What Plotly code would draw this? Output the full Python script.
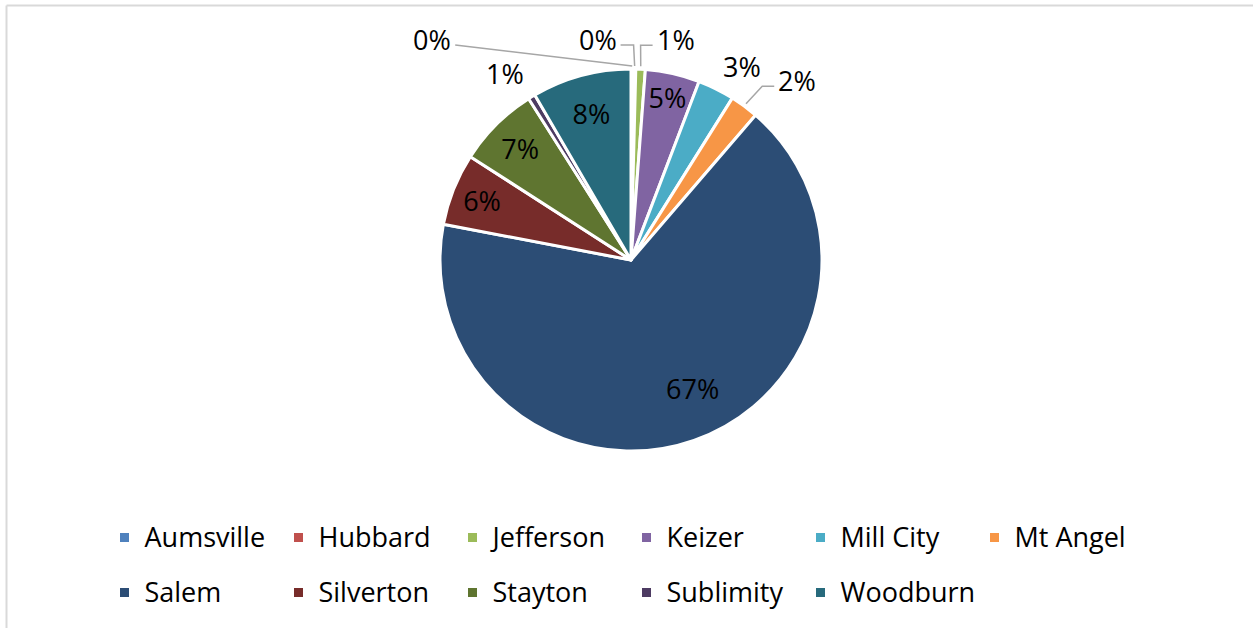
import math
import plotly.graph_objects as go

# ---------------- data ----------------
categories = ["Aumsville", "Hubbard", "Jefferson", "Keizer", "Mill City", "Mt Angel",
              "Salem", "Silverton", "Stayton", "Sublimity", "Woodburn"]
values = [0.2, 0.2, 0.8, 4.6, 3.1, 2.4, 66.7, 6.1, 6.9, 0.6, 8.4]

# ---------------- style ----------------
colors = ["#4F81BD", "#C0504D", "#9BBB59", "#8064A2", "#4BACC6", "#F79646",
          "#2C4D75", "#772C2A", "#5F7530", "#4D3B62", "#276A7C"]
# slices whose percentage is drawn by the pie itself (inside)
inside_labels = {"Keizer", "Stayton", "Silverton", "Woodburn"}
# labels placed by offsets (px) from the slice's rim point, Excel-like
# name: (dx, dy, leader) ; leader = None or (side, horizontal_len)
outside_cfg = {
    "Aumsville": (-200, -30, ("right", 0)),
    "Hubbard": (-37, -30, ("right", 13)),
    "Jefferson": (35, -30, ("left", 12)),
    "Mill City": (26, -23, None),
    "Mt Angel": (53, -26, ("left", 12)),
    "Sublimity": (-27, -23, None),
}
# big slice label position (fraction of radius, angle nudge in degrees)
center_cfg = {"Salem": (0.745, -6.5)}

FONT = "Open Sans"
FS = 27
W, H = 1253, 628
MR = 150                    # right margin (limits legend row to 6 entries)
PW = W - MR                 # plot-area width in px
cx, cy, R = 631, 260, 191   # pie centre / radius in px


def px2x(px):
    return px / PW


def px2y(py):
    return 1 - py / H


total = sum(values)
pcts = [v / total for v in values]

# slice mid angles (degrees clockwise from 12 o'clock)
mids = []
acc = 0.0
for v in values:
    a0 = acc / total * 360
    acc += v
    a1 = acc / total * 360
    mids.append((a0 + a1) / 2)


def rim(angle_deg, rad):
    t = math.radians(angle_deg)
    return cx + rad * math.sin(t), cy - rad * math.cos(t)


texttemplates = ["%{percent:.0%}" if c in inside_labels else "" for c in categories]
textpositions = ["inside" if c in inside_labels else "none" for c in categories]

fig = go.Figure(go.Pie(
    labels=[f"<span style='font-size:{FS}px;baseline-shift:6px'>{c}</span>" for c in categories],
    values=values,
    customdata=categories,
    hovertemplate="%{customdata}: %{percent}<extra></extra>",
    sort=False,
    direction="clockwise",
    rotation=0,
    automargin=False,
    marker=dict(colors=colors, line=dict(color="white", width=3)),
    texttemplate=texttemplates,
    textposition=textpositions,
    insidetextorientation="horizontal",
    textfont=dict(family=FONT, size=FS, color="black"),
    domain=dict(x=[px2x(cx - 300), px2x(cx + 300)], y=[px2y(cy + R), px2y(cy - R)]),
))

annotations = []
shapes = []
for i, c in enumerate(categories):
    label = f"{round(pcts[i] * 100):.0f}%"
    if c in outside_cfg:
        dx, dy, leader = outside_cfg[c]
        ax_, ay_ = rim(mids[i], R)
        lx, ly = ax_ + dx, ay_ + dy
        annotations.append(dict(x=px2x(lx), y=px2y(ly), xref="paper", yref="paper",
                                text=label, showarrow=False, xanchor="center", yanchor="middle",
                                font=dict(family=FONT, size=FS, color="black")))
        if leader:
            side, hl = leader
            sx = lx + (23 if side == "right" else -23)
            sy = ly + 6
            ex = sx + (hl if side == "right" else -hl)
            px_, py_ = rim(mids[i], R + 3)
            path = (f"M {px2x(sx)},{px2y(sy)} L {px2x(ex)},{px2y(sy)} "
                    f"L {px2x(px_)},{px2y(py_)}")
            shapes.append(dict(type="path", path=path, xref="paper", yref="paper",
                               line=dict(color="#A6A6A6", width=1.5)))
    elif c in center_cfg:
        frac, dang = center_cfg[c]
        lx, ly = rim(mids[i] + dang, R * frac)
        annotations.append(dict(x=px2x(lx), y=px2y(ly), xref="paper", yref="paper",
                                text=label, showarrow=False, xanchor="center", yanchor="middle",
                                font=dict(family=FONT, size=FS, color="black")))

# chart-area border (light grey, top and left edges visible)
shapes += [
    dict(type="line", xref="paper", yref="paper", x0=px2x(6.5), x1=px2x(W), y0=px2y(5.5), y1=px2y(5.5),
         line=dict(color="#D9D9D9", width=2)),
    dict(type="line", xref="paper", yref="paper", x0=px2x(6.5), x1=px2x(6.5), y0=px2y(H), y1=px2y(5.5),
         line=dict(color="#D9D9D9", width=2)),
]

fig.update_layout(
    width=W, height=H,
    margin=dict(l=0, r=MR, t=0, b=0, autoexpand=False),
    paper_bgcolor="white",
    plot_bgcolor="white",
    font=dict(family=FONT, color="black"),
    uniformtext=dict(minsize=FS, mode="show"),
    showlegend=True,
    legend=dict(
        orientation="h",
        x=px2x(104.5), xanchor="left",
        y=px2y(505), yanchor="top",
        font=dict(family=FONT, size=40, color="black"),
        entrywidth=129,
        traceorder="normal",
    ),
    annotations=annotations,
    shapes=shapes,
)

fig.write_html("out.html", config={"displayModeBar": False},
               post_script="document.body.style.margin='0px';")
